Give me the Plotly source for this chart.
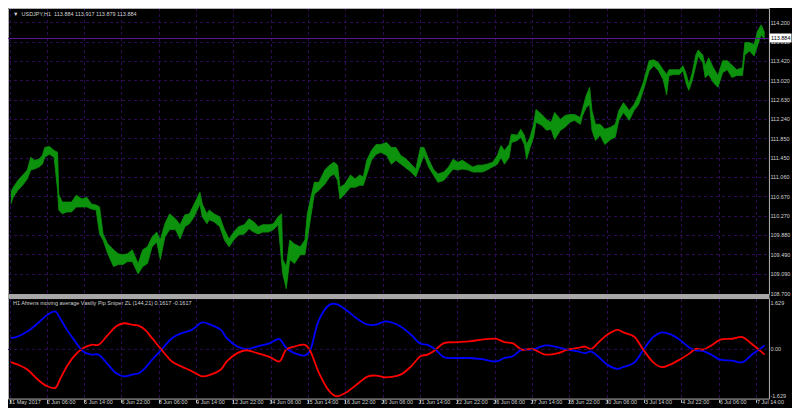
import plotly.graph_objects as go

# USDJPY H1 price band (bar index, high, low)
bars = [0, 2, 6, 10, 14, 17, 20, 24, 27, 29,
        33, 37, 40, 41, 44, 48, 52, 56, 61, 65,
        69, 73, 76, 79, 83, 88, 92, 96, 100, 104,
        109, 113, 117, 121, 125, 128, 132, 136, 141, 145,
        149, 153, 157, 162, 164, 168, 170, 174, 179, 183,
        187, 191, 195, 200, 204, 208, 212, 216, 221, 225,
        229, 232, 233, 236, 239, 243, 248, 252, 254, 257,
        260, 264, 269, 273, 277, 280, 282, 286, 291, 295,
        299, 302, 305, 309, 313, 317, 322, 326, 330, 334,
        339, 343, 347, 351, 354, 358, 362, 366, 371, 375,
        379, 383, 387, 392, 396, 400, 404, 408, 413, 417,
        420, 423, 427, 429, 434, 437, 440, 442, 445, 448,
        450, 455, 459, 463, 466, 471, 475, 479, 483, 488,
        490, 493, 496, 498, 501, 505, 509, 514, 518, 521,
        525, 530, 534, 538, 542, 547, 551, 555, 559, 562,
        564, 568, 573, 576, 579, 581, 584, 587, 589, 593,
        595, 598, 602, 606, 610, 614, 618, 622, 627, 629,
        633, 637, 640, 643, 646]

high = [110.76, 110.86, 111.00, 111.11, 111.21, 111.47, 111.41, 111.43, 111.51, 111.67,
        111.69, 111.61, 111.57, 110.72, 110.56, 110.56, 110.56, 110.70, 110.62, 110.66,
        110.52, 110.50, 110.46, 109.91, 109.71, 109.59, 109.51, 109.49, 109.51, 109.59,
        109.31, 109.59, 109.65, 109.85, 109.95, 109.79, 110.12, 110.32, 110.22, 110.10,
        110.30, 110.32, 110.52, 110.76, 110.52, 110.32, 110.40, 110.32, 110.26, 110.00,
        109.81, 109.95, 110.06, 110.10, 110.22, 110.16, 110.06, 110.10, 110.10, 110.12,
        110.26, 110.32, 109.39, 109.25, 109.79, 109.71, 109.65, 109.79, 110.32, 110.66,
        110.96, 110.96, 111.21, 111.31, 111.37, 111.31, 110.86, 110.92, 111.11, 111.03,
        111.11, 111.07, 111.41, 111.61, 111.73, 111.73, 111.77, 111.67, 111.67, 111.51,
        111.43, 111.33, 111.23, 111.67, 111.67, 111.43, 111.23, 111.13, 111.17, 111.27,
        111.43, 111.37, 111.41, 111.33, 111.27, 111.31, 111.31, 111.33, 111.37, 111.51,
        111.71, 111.61, 111.73, 111.94, 111.92, 112.04, 111.92, 111.73, 111.88, 112.14,
        112.44, 112.34, 112.24, 112.18, 112.38, 112.24, 112.32, 112.34, 112.34, 112.28,
        112.48, 112.72, 112.89, 112.42, 112.14, 112.14, 112.04, 112.08, 112.14, 112.42,
        112.58, 112.42, 112.54, 112.74, 112.99, 113.43, 113.45, 113.39, 113.25, 113.15,
        113.25, 113.25, 113.25, 113.33, 113.15, 112.95, 113.19, 113.55, 113.65, 113.55,
        113.33, 113.49, 113.29, 113.13, 113.43, 113.43, 113.33, 113.25, 113.29, 113.80,
        113.80, 113.76, 114.04, 114.16, 114.00]

low = [110.52, 110.66, 110.80, 110.90, 111.03, 111.21, 111.23, 111.27, 111.33, 111.47,
       111.53, 111.47, 110.80, 110.40, 110.32, 110.36, 110.36, 110.46, 110.46, 110.46,
       110.42, 110.40, 109.91, 109.79, 109.51, 109.25, 109.29, 109.29, 109.35, 109.35,
       109.10, 109.25, 109.31, 109.65, 109.75, 109.39, 109.85, 110.00, 110.00, 109.81,
       110.06, 110.12, 110.26, 110.52, 110.26, 110.12, 110.20, 110.16, 110.06, 109.79,
       109.65, 109.79, 109.89, 109.91, 110.02, 109.95, 109.91, 109.95, 109.95, 110.00,
       110.10, 109.31, 109.10, 108.80, 109.39, 109.31, 109.49, 109.49, 109.79, 110.32,
       110.72, 110.80, 110.92, 111.07, 111.13, 111.00, 110.62, 110.72, 110.86, 110.86,
       110.90, 110.90, 111.13, 111.41, 111.53, 111.57, 111.51, 111.33, 111.41, 111.33,
       111.23, 111.17, 111.07, 111.33, 111.51, 111.27, 111.11, 110.96, 111.00, 111.11,
       111.23, 111.21, 111.23, 111.21, 111.17, 111.17, 111.17, 111.21, 111.27, 111.33,
       111.47, 111.33, 111.47, 111.77, 111.81, 111.88, 111.73, 111.43, 111.67, 111.88,
       112.18, 112.12, 112.02, 112.04, 111.83, 112.02, 112.08, 112.18, 112.22, 112.14,
       112.32, 112.48, 112.54, 112.02, 111.81, 111.92, 111.73, 111.83, 111.88, 112.22,
       112.38, 112.22, 112.42, 112.54, 112.83, 113.23, 113.33, 113.23, 113.05, 112.74,
       113.13, 113.15, 113.15, 113.23, 112.95, 112.83, 113.03, 113.33, 113.53, 113.39,
       113.09, 113.15, 112.99, 112.89, 113.19, 113.25, 113.09, 113.13, 113.13, 113.55,
       113.63, 113.53, 113.76, 113.96, 113.86]

# indicator panel (Ahrens MA / Pip Sniper ZL)
ind_bars = [0, 6, 14, 23, 31, 38, 42, 48, 54, 62,
            69, 75, 82, 90, 97, 104, 110, 115, 121, 129,
            138, 146, 155, 164, 171, 180, 185, 194, 202, 211,
            222, 230, 236, 243, 252, 256, 264, 273, 279, 287,
            298, 306, 313, 320,
            326, 334, 343, 351, 357, 364, 371, 382, 393, 404,
            416, 423, 430, 438, 447, 458, 469, 477, 486, 492,
            497, 503, 511, 520, 525, 534, 542, 551, 558, 565,
            573, 582, 587, 593, 600, 608, 618, 627, 634, 641,
            646]

blue_line = [0.39, 0.45, 0.62, 0.91, 1.20, 1.32, 1.09, 0.68, 0.34, -0.07,
             -0.18, -0.18, -0.47, -0.82, -0.94, -0.88, -0.82, -0.65, -0.36, -0.01,
             0.39, 0.56, 0.68, 0.94, 0.86, 0.68, 0.39, 0.10, 0.01, 0.10,
             0.22, 0.36, 0.05, -0.13, -0.21, -0.07, 1.03, 1.55, 1.58, 1.38,
             1.03, 0.86, 0.86, 0.97,
             0.94, 0.80, 0.51, 0.20, 0.16, -0.01, -0.27, -0.30, -0.30, -0.34,
             -0.42, -0.30, -0.24, -0.01, -0.01, 0.14, 0.07, -0.01, -0.07, -0.13,
             -0.07, -0.24, -0.53, -0.68, -0.61, -0.47, -0.01, 0.45, 0.59, 0.53,
             0.34, 0.05, -0.03, -0.05, -0.18, -0.36, -0.39, -0.45, -0.22, -0.01,
             0.14]

red_line = [-0.44, -0.53, -0.70, -1.05, -1.28, -1.34, -1.05, -0.59, -0.24, 0.05,
            0.16, 0.16, 0.45, 0.80, 0.91, 0.86, 0.82, 0.68, 0.39, -0.01,
            -0.42, -0.59, -0.76, -0.94, -0.88, -0.70, -0.42, -0.13, -0.03, -0.13,
            -0.27, -0.42, -0.01, 0.10, 0.16, -0.01, -0.82, -1.46, -1.63, -1.51,
            -1.17, -0.94, -0.91, -0.97,
            -0.96, -0.88, -0.59, -0.24, -0.18, -0.01, 0.22, 0.25, 0.28, 0.34,
            0.37, 0.25, 0.22, -0.01, 0.01, -0.18, -0.13, -0.01, 0.05, 0.10,
            0.01, 0.22, 0.51, 0.68, 0.59, 0.45, -0.01, -0.47, -0.62, -0.53,
            -0.36, -0.13, 0.02, -0.01, 0.13, 0.34, 0.37, 0.43, 0.22, -0.01,
            -0.18]

price_ticks = [114.200, 113.810, 113.420, 113.020, 112.630, 112.240, 111.850, 111.450,
               111.060, 110.670, 110.270, 109.880, 109.490, 109.090, 108.700]
ind_ticks = [1.629, 0.0, -1.629]
ind_tick_text = ["1.629", "0.00", "-1.629"]

time_ticks = [0, 31, 63, 95, 127, 159, 191, 223, 255, 287, 319,
              351, 383, 415, 447, 479, 511, 543, 575, 607, 639]
time_labels = ["31 May 2017", "2 Jun 06:00", "5 Jun 14:00", "6 Jun 22:00", "8 Jun 06:00",
               "9 Jun 14:00", "12 Jun 22:00", "14 Jun 06:00", "15 Jun 14:00", "16 Jun 22:00",
               "20 Jun 06:00", "21 Jun 14:00", "22 Jun 22:00", "26 Jun 06:00", "27 Jun 14:00",
               "28 Jun 22:00", "30 Jun 06:00", "3 Jul 14:00", "4 Jul 22:00", "6 Jul 06:00",
               "7 Jul 14:00"]

header = "▼  USDJPY,H1  113.884 113.917 113.879 113.884"
ind_name = "H1 Ahrens moving average Vasiliy Pip Sniper ZL (144,21) 0.1617 -0.1617"
bid = 113.884

assert len(bars) == len(high) == len(low)
assert len(ind_bars) == len(blue_line) == len(red_line)

GREEN = "#0c920c"
GRID = "#2c0a54"
FRAME = "#b4b4b4"
TXT = "#d2d2d2"
FONT = "Liberation Sans, Arial, sans-serif"

fig = go.Figure()
fig.add_trace(go.Scatter(x=bars, y=low, mode="lines", line=dict(color=GREEN, width=0.8),
                         xaxis="x", yaxis="y", hoverinfo="skip"))
fig.add_trace(go.Scatter(x=bars, y=high, mode="lines", line=dict(color=GREEN, width=0.8),
                         fill="tonexty", fillcolor=GREEN, xaxis="x", yaxis="y"))
fig.add_trace(go.Scatter(x=ind_bars, y=blue_line, mode="lines",
                         line=dict(color="#0000ff", width=1.8, shape="spline"),
                         xaxis="x2", yaxis="y2"))
fig.add_trace(go.Scatter(x=ind_bars, y=red_line, mode="lines",
                         line=dict(color="#ff0000", width=1.8, shape="spline"),
                         xaxis="x2", yaxis="y2"))

x_end = 775 / 800
main_dom = [120 / 408, 1]
ind_dom = [15 / 408, 116 / 408]
xr = [-2.5, 650.1]

grid = dict(showgrid=True, gridcolor=GRID, griddash="dot", gridwidth=1, zeroline=False)

fig.update_layout(
    width=800, height=408,
    margin=dict(l=0, r=0, t=0, b=0),
    paper_bgcolor="black", plot_bgcolor="black",
    showlegend=False,
    font=dict(family=FONT, size=5.5, color=TXT),
    xaxis=dict(domain=[0, x_end], range=xr, anchor="y", tickvals=time_ticks,
               showticklabels=False, ticks="", **grid),
    xaxis2=dict(domain=[0, x_end], range=xr, anchor="y2", matches="x",
                tickvals=time_ticks, ticktext=time_labels, ticks="outside",
                ticklen=3, tickcolor=FRAME, ticklabelshift=14, ticklabelstandoff=-6,
                tickfont=dict(family=FONT, size=5.5, color=TXT), **grid),
    yaxis=dict(domain=main_dom, range=[108.68, 114.503], anchor="x", side="right",
               tickvals=price_ticks, tickformat=".3f", ticks="",
               tickfont=dict(family=FONT, size=5.5, color=TXT), **grid),
    yaxis2=dict(domain=ind_dom, range=[-1.73, 1.77], anchor="x2", side="right",
                tickvals=ind_ticks, ticktext=ind_tick_text, ticks="",
                showgrid=False, zeroline=False,
                tickfont=dict(family=FONT, size=5.5, color=TXT)),
)

shapes = [
    # panel frames
    dict(type="rect", xref="paper", yref="paper", x0=0.0006, x1=x_end, y0=main_dom[0], y1=0.9988,
         line=dict(color=FRAME, width=1)),
    dict(type="rect", xref="paper", yref="paper", x0=0.0006, x1=x_end, y0=ind_dom[0], y1=ind_dom[1],
         line=dict(color=FRAME, width=1)),
    # separator between panels
    dict(type="rect", xref="paper", yref="paper", x0=0, x1=x_end,
         y0=116.5 / 408, y1=119.5 / 408, fillcolor="#a8a8a8", line=dict(width=0)),
    # zero level in indicator
    dict(type="line", xref="x2 domain", yref="y2", x0=0, x1=1, y0=0, y1=0,
         line=dict(color=GRID, width=1, dash="dot")),
    # bid line
    dict(type="line", xref="x domain", yref="y", x0=0, x1=1, y0=bid, y1=bid,
         line=dict(color="#5c1898", width=1)),
]
fig.update_layout(shapes=shapes)

fig.add_annotation(x=x_end, xref="paper", xanchor="left", y=bid, yref="y", yanchor="middle",
                   text=f"{bid:.3f}", showarrow=False, bgcolor="white", borderpad=1,
                   font=dict(family=FONT, size=5.5, color="black"))
fig.add_annotation(x=3 / 800, xref="paper", xanchor="left", y=1 - 6 / 408, yref="paper",
                   yanchor="middle", text=header, showarrow=False,
                   font=dict(family=FONT, size=5.5, color=TXT))
fig.add_annotation(x=3 / 800, xref="paper", xanchor="left", y=1 - 296 / 408, yref="paper",
                   yanchor="middle", text=ind_name, showarrow=False,
                   font=dict(family=FONT, size=5.5, color=TXT))

fig.write_html("out.html")
